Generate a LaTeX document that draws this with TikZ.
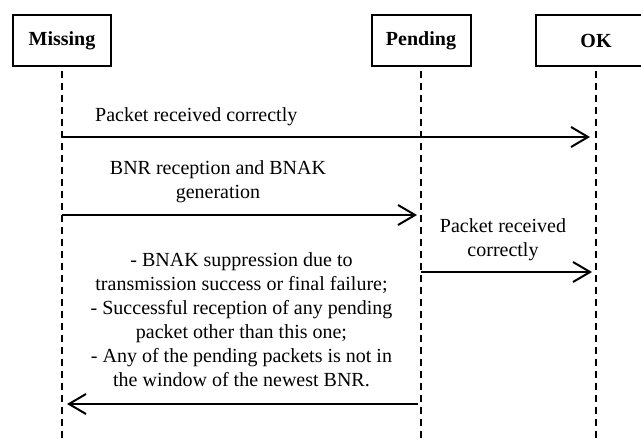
\documentclass[tikz,border=0pt]{standalone}
\usepackage{fontspec}
\setmainfont{Liberation Serif}
\usetikzlibrary{arrows.meta, positioning}

\begin{document}
\begin{tikzpicture}[
  x=1pt, y=-1pt,
  txt/.style={font=\fontsize{20}{24}\selectfont},
  state/.style={draw, line width=2pt, minimum height=51pt, inner sep=0pt, txt, font=\fontsize{20}{24}\selectfont\bfseries},
  life/.style={dash pattern=on 7pt off 5pt, line width=1.6pt},
  msg/.style={-{Straight Barb[length=17pt, width=20pt]}, line width=2pt},
  lbl/.style={txt, align=center, inner sep=0pt}
]
  \clip (0,0) rectangle (641,439);

  % states
  \node[state, minimum width=98pt] (miss) at (62,40.5) {Missing};
  \node[state, minimum width=99pt] (pend) at (421,40.5) {Pending};
  \node[state, minimum width=120pt] (ok) at (596,40.5) {OK};

  % lifelines
  \coordinate (missEnd) at (62,439);
  \coordinate (pendEnd) at (421,439);
  \coordinate (okEnd) at (596,439);
  \draw[life] ([yshift=-4pt]miss.south) -- (missEnd);
  \draw[life] ([yshift=-4pt]pend.south) -- (pendEnd);
  \draw[life] ([yshift=-4pt]ok.south) -- (okEnd);

  % message points
  \coordinate (m1) at (62,137);
  \coordinate (o1) at (596,137);
  \coordinate (m2) at (62,215);
  \coordinate (p2) at (421,215);
  \coordinate (p3) at (421,272);
  \coordinate (o3) at (596,272);
  \coordinate (p4) at (421,404);
  \coordinate (m4) at (62,404);

  % messages
  \draw[msg, shorten >=6pt] (m1) -- (o1);
  \draw[msg, shorten >=4pt] (m2) -- (p2);
  \draw[msg, shorten >=4pt] (p3) -- (o3);
  \draw[msg, shorten <=3pt, shorten >=5pt] (p4) -- (m4);

  % labels
  \node[lbl, anchor=west] (l1) at (95,117) {Packet received correctly};
  \node[lbl] (l2) at (218,182) {BNR reception and BNAK\\generation};
  \node[lbl] (l3) at (503,240) {Packet received\\correctly};
  \node[lbl] (l4) at (241.5,320) {- BNAK suppression due to\\transmission success or final failure;\\- Successful reception of any pending\\packet other than this one;\\- Any of the pending packets is not in\\the window of the newest BNR.};
\end{tikzpicture}
\end{document}
